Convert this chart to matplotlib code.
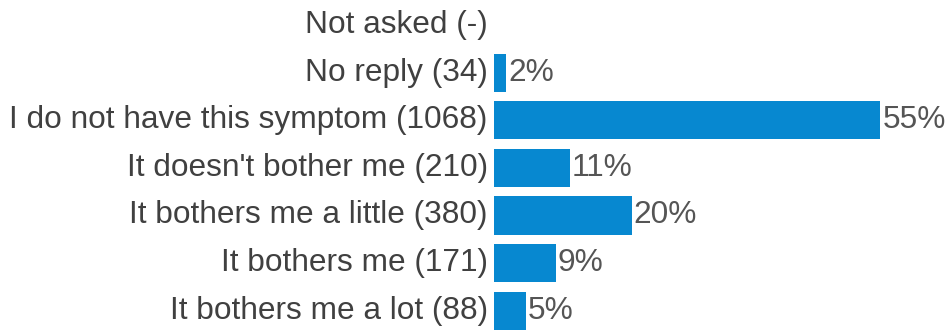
import matplotlib
matplotlib.use("Agg")
import matplotlib.pyplot as plt

categories = ["Not asked (-)", "No reply (34)", "I do not have this symptom (1068)",
              "It doesn't bother me (210)", "It bothers me a little (380)",
              "It bothers me (171)", "It bothers me a lot (88)"]
counts = [None, 34, 1068, 210, 380, 171, 88]
pct_labels = ["", "2%", "55%", "11%", "20%", "9%", "5%"]

total = sum(c for c in counts if c is not None)
values = [(c / total if c is not None else 0) for c in counts]

plt.rcParams['font.family'] = ['Liberation Sans', 'DejaVu Sans']
fig = plt.figure(figsize=(9.53, 3.33), dpi=100)
ax = fig.add_axes([494/953, 0, 459/953, 1])
ax.set_xlim(0, 459/706)
ax.set_ylim(6.47, -0.53)
bar_color = '#0788d0'
ypos = list(range(len(categories)))
ax.barh(ypos, values, height=0.8, color=bar_color)
fs = 22.8
for y, v, c, lab in zip(ypos, values, counts, pct_labels):
    if c is not None:
        ax.text(v + 0.003, y, lab, va='center', ha='left', fontsize=fs, color='#555555')
for y, cat in zip(ypos, categories):
    ax.text(-0.009, y, cat, va='center', ha='right', fontsize=fs, color='#404040',
            clip_on=False)
ax.axis('off')
fig.savefig("out.png", dpi=100)
